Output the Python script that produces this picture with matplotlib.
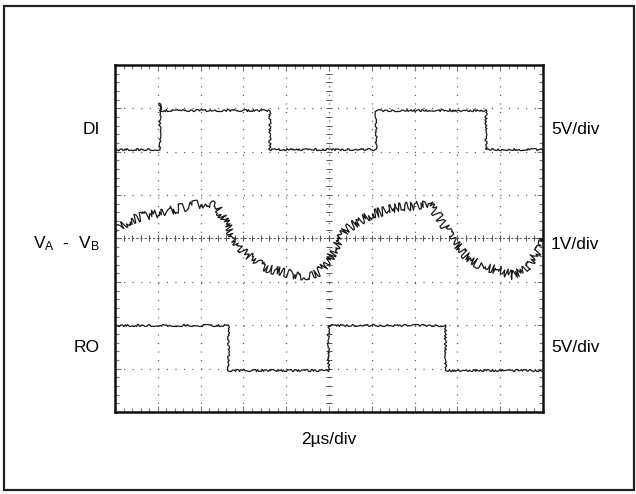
import numpy as np
import matplotlib
matplotlib.use('Agg')
import matplotlib.pyplot as plt
from matplotlib.patches import Rectangle

plt.rcParams['font.family'] = ['Liberation Sans Narrow', 'Liberation Sans', 'DejaVu Sans']
plt.rcParams['lines.scale_dashes'] = False

# scope traces, in screen divisions (10 x 8 grid)
di_t = [0, 1.05, 1.05, 1.06, 3.62, 3.62, 6.1, 6.1, 8.67, 8.67, 10]
di_v = [6.05, 6.05, 7.12, 6.95, 6.95, 6.05, 6.05, 6.95, 6.95, 6.05, 6.05]

ro_t = [0, 2.64, 2.64, 4.98, 4.98, 7.71, 7.71, 10]
ro_v = [2.0, 2.0, 0.97, 0.97, 2.0, 2.0, 0.97, 0.97]

vab_t = [0, 0.3, 0.6, 1.0, 1.5, 2.0, 2.2, 2.4, 2.6, 2.8, 3.0, 3.3, 3.6,
         4.0, 4.3, 4.6, 4.8, 5.0, 5.2, 5.4, 5.7, 6.0, 6.5, 7.0, 7.3, 7.5, 7.7,
         7.9, 8.2, 8.5, 9.0, 9.3, 9.6, 9.9, 10]
vab_v = [4.15, 4.4, 4.5, 4.58, 4.7, 4.8, 4.82, 4.72, 4.35, 3.95, 3.7, 3.45, 3.3,
         3.2, 3.15, 3.15, 3.25, 3.5, 3.9, 4.2, 4.4, 4.55, 4.7, 4.75, 4.82, 4.6, 4.3,
         3.95, 3.6, 3.4, 3.25, 3.15, 3.3, 3.75, 4.0]

ch_labels = ['DI', '$\\mathregular{V_A}$  -  $\\mathregular{V_B}$', 'RO']
ch_scales = ['5V/div', '1V/div', '5V/div']
ch_ypix = [130, 244, 348]
time_label = '2\u00b5s/div'

W, H = 636, 494
fig = plt.figure(figsize=(W / 100, H / 100), dpi=100)

# outer frame
fig.patches.append(Rectangle((4 / W, 1 - 490 / H), 630 / W, 484 / H,
                             transform=fig.transFigure, fill=False,
                             edgecolor='#222222', linewidth=1.6))

ax = fig.add_axes([115 / W, 1 - 412 / H, 428 / W, 347 / H])
ax.set_xlim(0, 10)
ax.set_ylim(0, 8)

# graticule
ax.set_xticks(np.arange(0, 11, 1))
ax.set_yticks(np.arange(0, 9, 1))
ax.set_xticks(np.arange(0, 10.01, 0.2), minor=True)
ax.set_yticks(np.arange(0, 8.01, 0.2), minor=True)
ax.tick_params(which='both', direction='in', top=True, right=True,
               labelbottom=False, labelleft=False, color='#777777')
ax.tick_params(which='major', length=4, width=0.8)
ax.tick_params(which='minor', length=3, width=0.8)
ax.grid(True, which='major', color='#555555', linewidth=0.9,
        linestyle=(0, (0.8, 5.36)))
for s in ax.spines.values():
    s.set_linewidth(1.8)
    s.set_color('#111111')

# center crosshair with sub-division marks
minor_x = np.arange(0, 10.01, 0.2)
minor_y = np.arange(0, 8.01, 0.2)
ax.axhline(4, color='#555555', linewidth=0.8, linestyle=(0, (1.5, 1.5)))
ax.plot(minor_x, np.full_like(minor_x, 4), linestyle='none', marker='|',
        markersize=4, color='#555555', markeredgewidth=0.7)
ax.plot(np.full_like(minor_y, 5), minor_y, linestyle='none', marker='_',
        markersize=4, color='#555555', markeredgewidth=0.7)

# traces
l1, = ax.plot(di_t, di_v, color='#1a1a1a', linewidth=0.9)
l1.set_sketch_params(scale=1.0, length=1.5, randomness=100)
l2, = ax.plot(vab_t, vab_v, color='#1a1a1a', linewidth=0.9)
l2.set_sketch_params(scale=4.5, length=1.3, randomness=150)
l3, = ax.plot(ro_t, ro_v, color='#1a1a1a', linewidth=0.9)
l3.set_sketch_params(scale=1.0, length=1.5, randomness=100)

for lab, sc, yp in zip(ch_labels, ch_scales, ch_ypix):
    fig.text(100 / W, 1 - yp / H, lab, ha='right', va='center', fontsize=12.5)
    fig.text(551 / W, 1 - yp / H, sc, ha='left', va='center', fontsize=12.5)

fig.text(329 / W, 1 - 439 / H, time_label, ha='center', va='center', fontsize=12.5)

fig.savefig('out.png', dpi=100)
